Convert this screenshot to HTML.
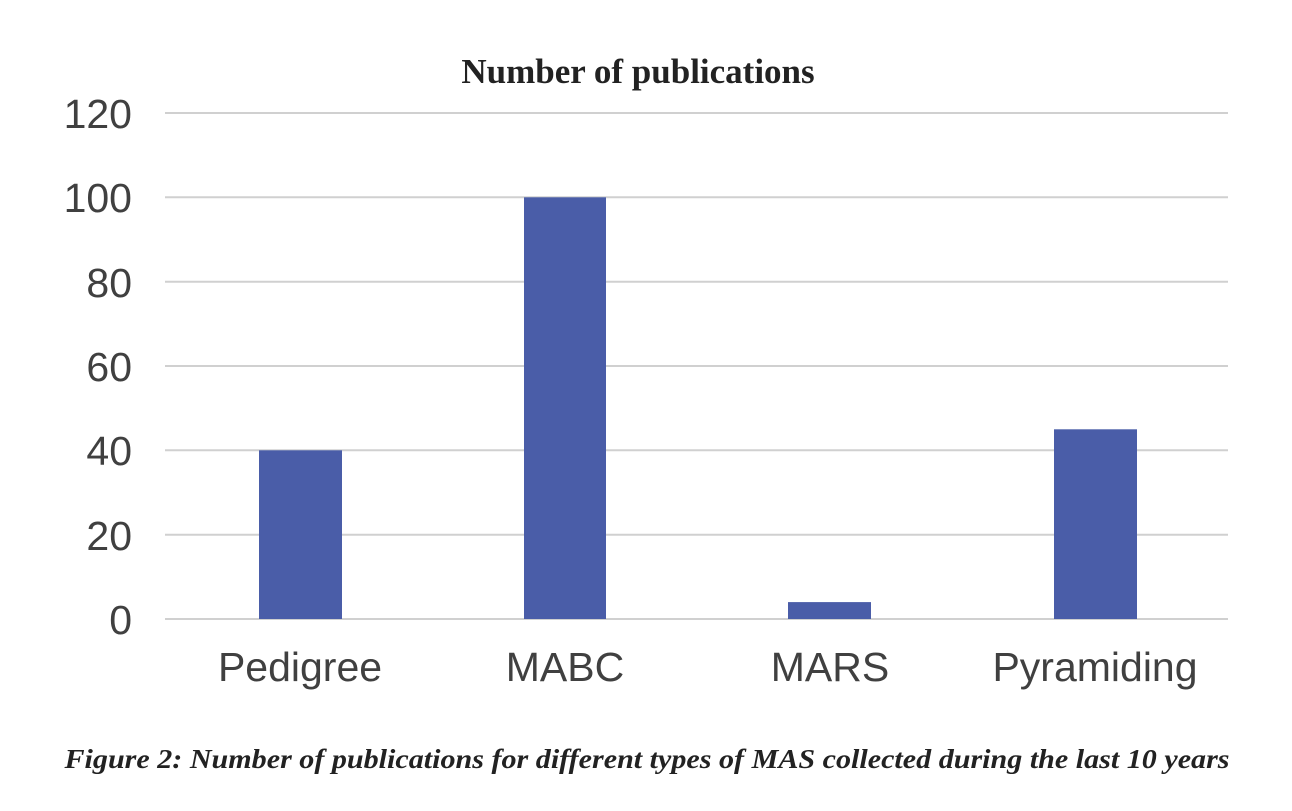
<!DOCTYPE html>
<html><head><style>
body{margin:0;background:#fff;}
</style></head><body>
<svg width="1292" height="806" xmlns="http://www.w3.org/2000/svg">
<rect width="1292" height="806" fill="#fff"/>
<text x="638" y="83" text-anchor="middle" font-family="Liberation Serif" font-weight="bold" font-size="35" fill="#222">Number of publications</text>
<g stroke="#d0d0d0" stroke-width="2">
<line x1="165" x2="1228" y1="113" y2="113"/>
<line x1="165" x2="1228" y1="197.3" y2="197.3"/>
<line x1="165" x2="1228" y1="281.7" y2="281.7"/>
<line x1="165" x2="1228" y1="366" y2="366"/>
<line x1="165" x2="1228" y1="450.3" y2="450.3"/>
<line x1="165" x2="1228" y1="534.7" y2="534.7"/>
<line x1="165" x2="1228" y1="619" y2="619"/>
</g>
<g font-family="Liberation Sans" font-size="41" fill="#404040" text-anchor="end">
<text x="132" y="128">120</text>
<text x="132" y="212">100</text>
<text x="132" y="297">80</text>
<text x="132" y="381">60</text>
<text x="132" y="465">40</text>
<text x="132" y="550">20</text>
<text x="132" y="634">0</text>
</g>
<g fill="#4a5da8">
<rect x="259" y="450.3" width="83" height="168.7"/>
<rect x="524" y="197.3" width="82" height="421.7"/>
<rect x="788" y="602.1" width="83" height="16.9"/>
<rect x="1054" y="429.3" width="83" height="189.7"/>
</g>
<g font-family="Liberation Sans" font-size="41" fill="#404040" text-anchor="middle">
<text x="300" y="681">Pedigree</text>
<text x="565" y="681">MABC</text>
<text x="830" y="681">MARS</text>
<text x="1095" y="681">Pyramiding</text>
</g>
<text x="647" y="768" text-anchor="middle" font-family="Liberation Serif" font-weight="bold" font-style="italic" font-size="27" fill="#222" textLength="1165" lengthAdjust="spacingAndGlyphs">Figure 2: Number of publications for different types of MAS collected during the last 10 years</text>
</svg>
</body></html>
